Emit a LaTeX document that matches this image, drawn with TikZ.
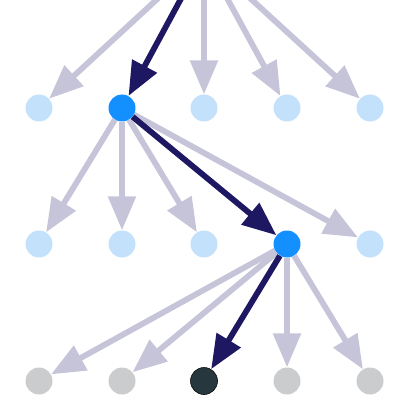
\documentclass[tikz,border=0pt]{standalone}
\usetikzlibrary{arrows.meta,backgrounds}
\definecolor{edgelight}{HTML}{C6C4D9}
\definecolor{edgedark}{HTML}{1E1761}
\definecolor{nodelight}{HTML}{C4E1FB}
\definecolor{nodeactive}{HTML}{138FFE}
\definecolor{nodegray}{HTML}{CBCCCE}
\definecolor{nodedark}{HTML}{27373E}
\tikzset{
  dot/.style={circle,minimum size=27pt,inner sep=0pt,draw=none},
  lightdot/.style={dot,fill=nodelight},
  activedot/.style={dot,fill=nodeactive},
  graydot/.style={dot,fill=nodegray},
  darkdot/.style={dot,fill=nodedark,draw=black!80!nodedark,line width=0.6pt},
  link/.style={line width=5.8pt,-{Triangle[length=34pt,width=27pt]}},
  lightlink/.style={link,draw=edgelight,fill=edgelight},
  darklink/.style={link,draw=edgedark,fill=edgedark}
}
\begin{document}
\begin{tikzpicture}[x=1pt,y=-1pt]
\useasboundingbox (0,0) rectangle (406,406);
\coordinate (src) at (204,-44);
% row 1
\node[lightdot]  (a1) at (39,108) {};
\node[activedot] (a2) at (122,108) {};
\node[lightdot]  (a3) at (204,108) {};
\node[lightdot]  (a4) at (287,108) {};
\node[lightdot]  (a5) at (370,108) {};
% row 2
\node[lightdot]  (b1) at (39,244) {};
\node[lightdot]  (b2) at (122,244) {};
\node[lightdot]  (b3) at (204,244) {};
\node[activedot] (b4) at (287,244) {};
\node[lightdot]  (b5) at (370,244) {};
% row 3
\node[graydot] (c1) at (39,381) {};
\node[graydot] (c2) at (122,381) {};
\node[darkdot] (c3) at (204,381) {};
\node[graydot] (c4) at (287,381) {};
\node[graydot] (c5) at (370,381) {};
\begin{scope}[on background layer]
\foreach \t in {a1,a3,a4,a5} \draw[lightlink] (src) -- (\t);
\draw[darklink] (src) -- (a2);
\foreach \t in {b1,b2,b3,b5} \draw[lightlink] (a2) -- (\t);
\draw[darklink] (a2) -- (b4);
\foreach \t in {c1,c2,c4,c5} \draw[lightlink] (b4) -- (\t);
\draw[darklink] (b4) -- (c3);
\end{scope}
\end{tikzpicture}
\end{document}
